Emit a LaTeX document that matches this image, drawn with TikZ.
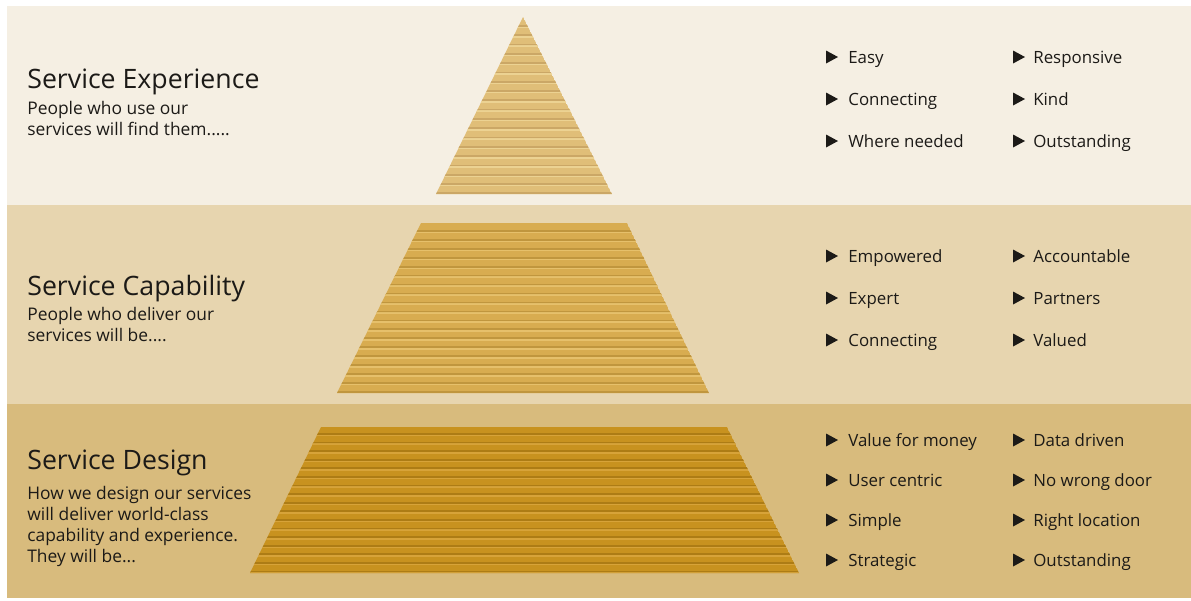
\documentclass[tikz,border=0pt]{standalone}
\usepackage{fontspec}
\setmainfont{Open Sans}
\usetikzlibrary{calc}
\definecolor{bandA}{HTML}{F5EFE3}
\definecolor{bandB}{HTML}{E7D5AF}
\definecolor{bandC}{HTML}{D8BB7D}
\definecolor{pyrA}{HTML}{E0BE78}
\definecolor{pyrAd}{HTML}{C4A060}
\definecolor{pyrAl}{HTML}{F0D899}
\definecolor{pyrB}{HTML}{D8AC50}
\definecolor{pyrBd}{HTML}{B98F38}
\definecolor{pyrBl}{HTML}{EAC672}
\definecolor{pyrC}{HTML}{C8921F}
\definecolor{pyrCd}{HTML}{A47512}
\definecolor{pyrCl}{HTML}{DBA840}
\definecolor{ink}{HTML}{1C1A17}
\tikzset{
  title/.style={anchor=base west, inner sep=0pt, text=ink, font=\fontsize{15.2}{18}\selectfont},
  sub/.style={anchor=north west, inner sep=0pt, text=ink, align=left, font=\fontsize{9.9}{11.9}\selectfont},
  item/.style={anchor=base west, inner sep=0pt, text=ink, font=\fontsize{9.6}{11.9}\selectfont},
  bul/.style={fill=ink},
}
\newcommand{\bulat}[2]{\fill[bul] (#1,#2) ++(-6,-6.5) -- ++(12,6.5) -- ++(-12,6.5) -- cycle;}
\newcommand{\bricks}[6]{%
  % #1 path, #2 base, #3 dark, #4 light, #5 ystart, #6 step
  \begin{scope}
    \clip #1;
    \fill[#2] #1;
    \foreach \k in {0,...,22} {
      \pgfmathsetmacro{\yy}{#5+\k*#6}
      \draw[#3, line width=1.1, opacity=0.75] (200,\yy) -- (900,\yy);
      \draw[#4, line width=0.9, opacity=0.8] (200,\yy+1.5) -- (900,\yy+1.5);
    }
  \end{scope}}
\begin{document}
\begin{tikzpicture}[x=0.02cm,y=-0.02cm]
\useasboundingbox (0,0) rectangle (1191,600);
\fill[white] (0,0) rectangle (1191,600);
\fill[bandA] (7,6) rectangle (1191,205);
\fill[bandB] (7,205) rectangle (1191,404);
\fill[bandC] (7,404) rectangle (1191,598);

% pyramid
\bricks{(523,17) -- (612,194) -- (436,194) -- cycle}{pyrA}{pyrAd}{pyrAl}{26}{9.3}
\bricks{(421,223) -- (627,223) -- (709,393) -- (337,393) -- cycle}{pyrB}{pyrBd}{pyrBl}{231}{8.95}
\bricks{(321,427) -- (727,427) -- (799,573) -- (250,573) -- cycle}{pyrC}{pyrCd}{pyrCl}{434}{8.6}

% left texts
\node[title] (t1) at (27,88) {Service Experience};
\node[sub] (s1) at (27,101) {People who use our\\services will find them.....};
\node[title] (t2) at (27,295) {Service Capability};
\node[sub] (s2) at (27,307) {People who deliver our\\services will be....};
\node[title] (t3) at (27,469) {Service Design};
\node[sub] (s3) at (27,486) {How we design our services\\will deliver world-class\\capability and experience.\\They will be...};

% right items
\foreach \y/\a/\b [count=\i] in {57/Easy/Responsive, 99/Connecting/Kind, 141/Where needed/Outstanding,
  256/Empowered/Accountable, 298/Expert/Partners, 340/Connecting/Valued,
  440/Value for money/Data driven, 480/User centric/No wrong door, 520/Simple/Right location, 560/Strategic/Outstanding} {
  \bulat{832}{\y}
  \bulat{1019}{\y}
  \node[item] (a\i) at (848,\y+6) {\a};
  \node[item] (b\i) at (1033,\y+6) {\b};
}
\end{tikzpicture}
\end{document}
